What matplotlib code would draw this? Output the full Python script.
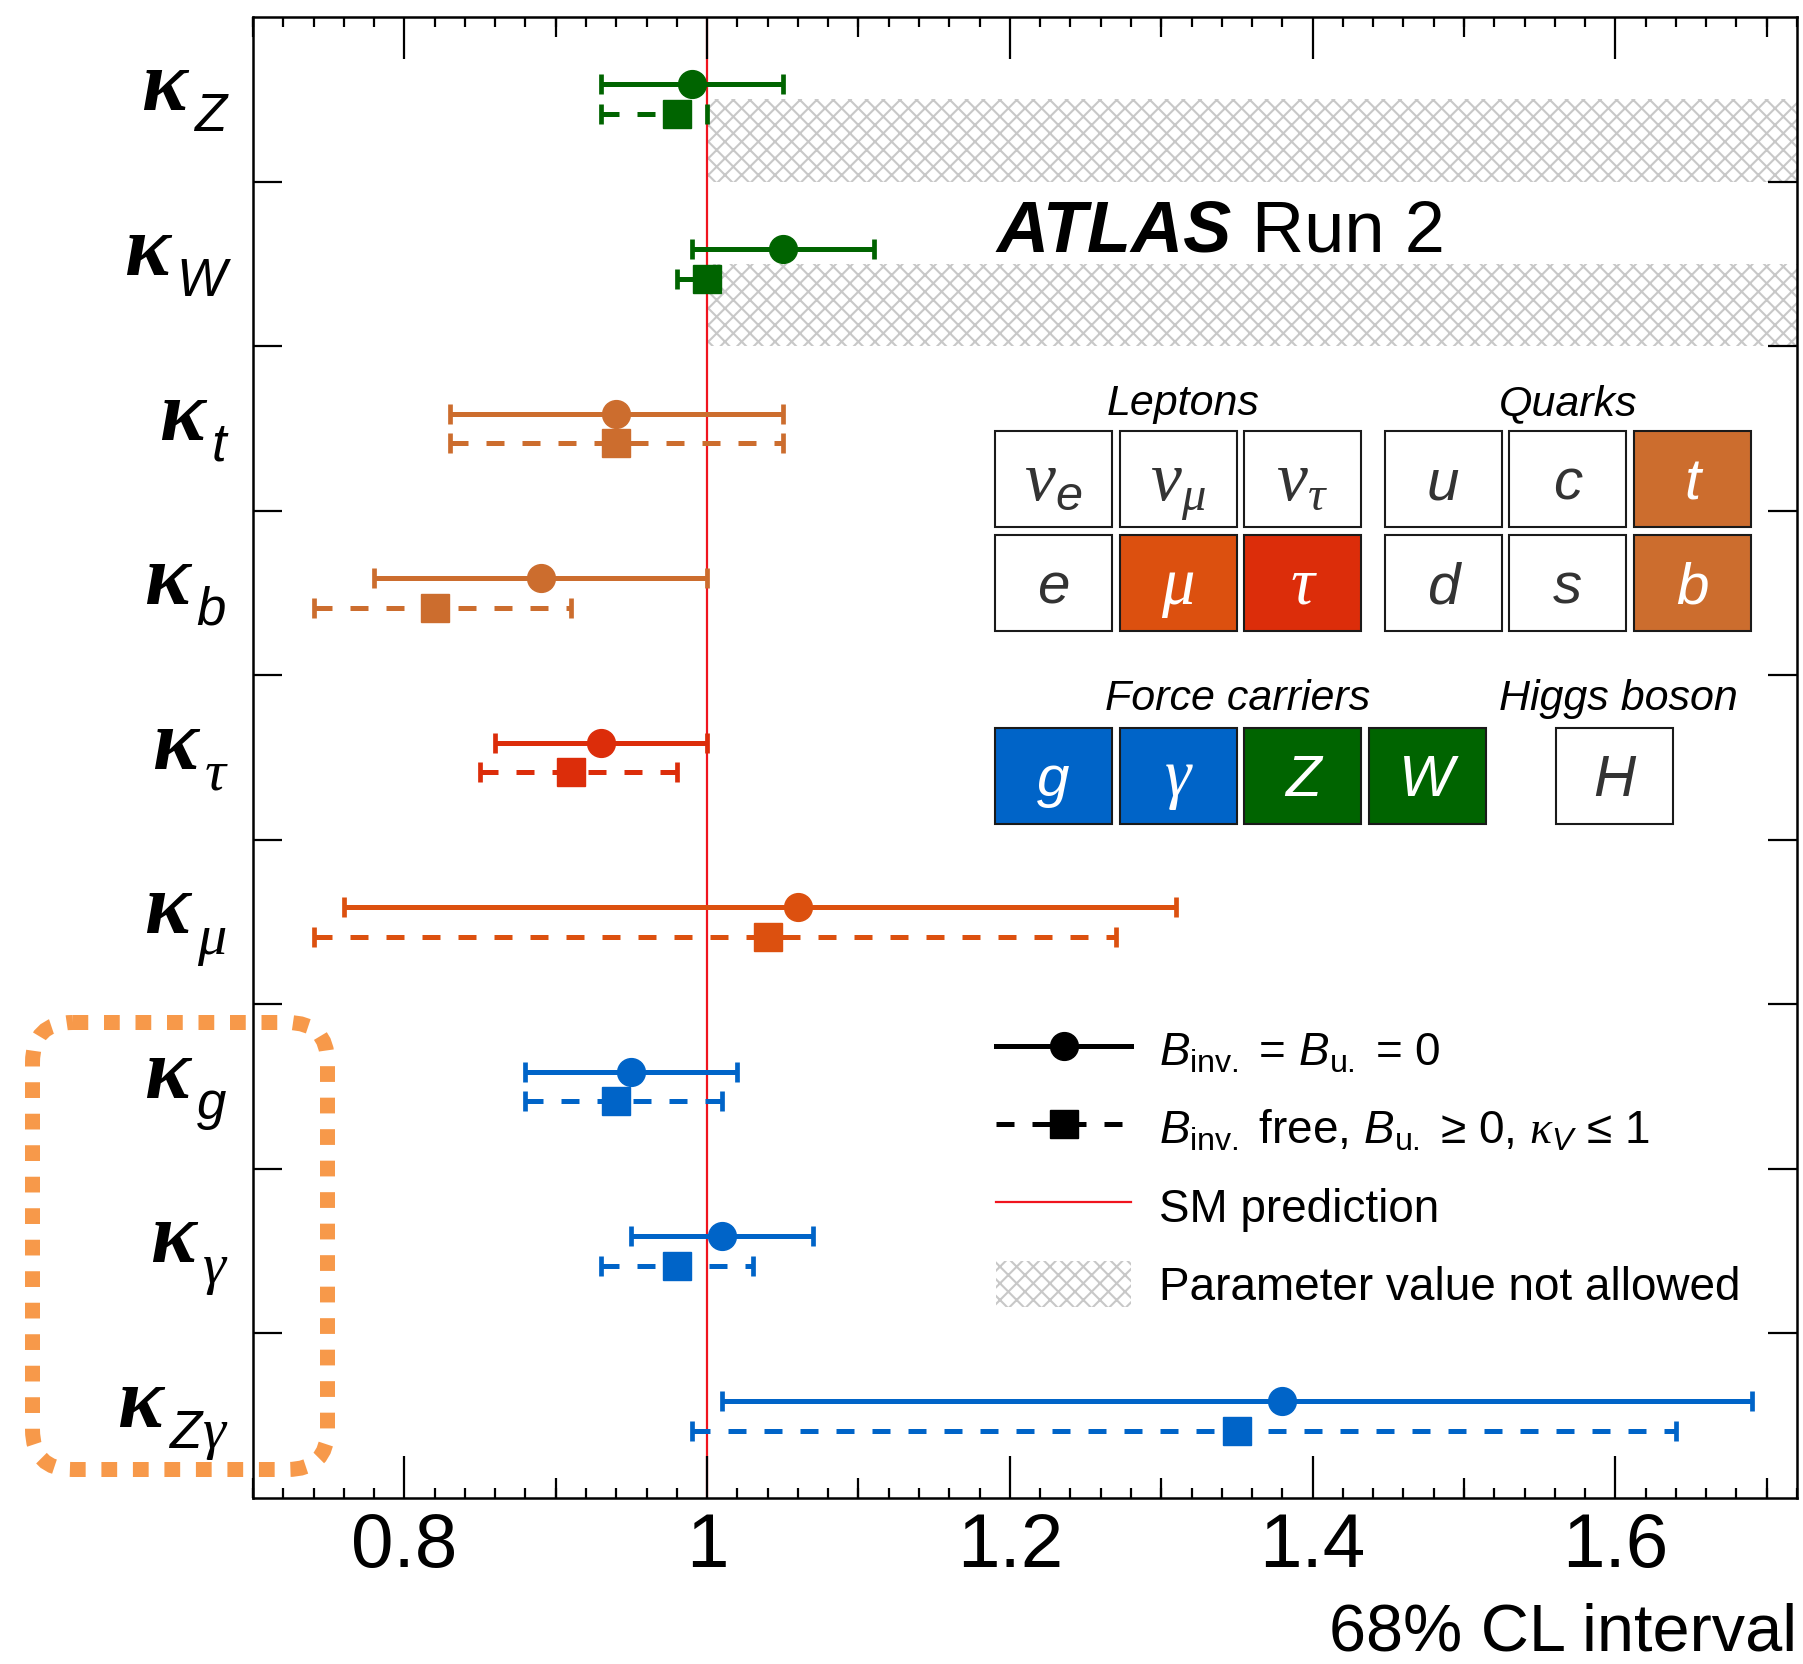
import numpy as np
import matplotlib
matplotlib.use('Agg')
import matplotlib.pyplot as plt
import matplotlib.transforms as mtransforms
from matplotlib.lines import Line2D
from matplotlib.patches import Patch, Rectangle, FancyBboxPatch
from matplotlib.ticker import MultipleLocator, FuncFormatter

plt.rcParams['font.family'] = ['Liberation Sans', 'DejaVu Sans']
plt.rcParams['mathtext.fontset'] = 'custom'
plt.rcParams['mathtext.rm'] = 'Liberation Sans'
plt.rcParams['mathtext.it'] = 'Liberation Sans:italic'
plt.rcParams['mathtext.bf'] = 'Liberation Sans:bold'
plt.rcParams['mathtext.cal'] = 'Liberation Serif:italic'
plt.rcParams['mathtext.sf'] = 'Liberation Sans'
plt.rcParams['hatch.linewidth'] = 1.5

GREEN = '#006400'
TOP = '#cc6d2e'
MU = '#dc500f'
TAU = '#dc2d0a'
BLUE = '#0064c8'
RED = '#f0141e'
HATCH = '#c8c8c8'
SERIF = ['Liberation Serif', 'DejaVu Serif']
SANS = ['Liberation Sans', 'DejaVu Sans']

# couplings, top to bottom
kappa_sub = ['Z', 'W', 't', 'b', 'τ', 'μ', 'g', 'γ', 'Zγ']
row_color = [GREEN, GREEN, TOP, TOP, TAU, MU, BLUE, BLUE, BLUE]

# B_inv = B_u = 0
fit1_val = [0.99, 1.05, 0.94, 0.89, 0.93, 1.06, 0.95, 1.01, 1.38]
fit1_lo = [0.93, 0.99, 0.83, 0.78, 0.86, 0.76, 0.88, 0.95, 1.01]
fit1_hi = [1.05, 1.11, 1.05, 1.00, 1.00, 1.31, 1.02, 1.07, 1.69]

# B_inv free, B_u >= 0, kappa_V <= 1
fit2_val = [0.98, 1.00, 0.94, 0.82, 0.91, 1.04, 0.94, 0.98, 1.35]
fit2_lo = [0.93, 0.98, 0.83, 0.74, 0.85, 0.74, 0.88, 0.93, 0.99]
fit2_hi = [1.00, 1.00, 1.05, 0.91, 0.98, 1.27, 1.01, 1.03, 1.64]

# kappa_V <= 1 bound (kappa_Z, kappa_W)
kv_limit = [1.0, 1.0]

xmin, xmax = 0.7, 1.72

# particle table
lepton_syms = [r'$\mathcal{\nu}_{e}$', r'$\mathcal{\nu}_{\mathcal{\mu}}$', r'$\mathcal{\nu}_{\mathcal{\tau}}$',
               'e', 'μ', 'τ']
lepton_cols = [None, None, None, None, MU, TAU]
quark_syms = ['u', 'c', 't', 'd', 's', 'b']
quark_cols = [None, None, TOP, None, None, TOP]
force_syms = ['g', 'γ', 'Z', 'W']
force_cols = [BLUE, BLUE, GREEN, GREEN]

fig = plt.figure(figsize=(18.03, 16.64), dpi=100)
ax = fig.add_axes([253 / 1803, 1 - 1498 / 1664, 1544 / 1803, 1481 / 1664])
# pixel coordinates measured from the top-left corner of the figure
PX = mtransforms.Affine2D().scale(0.01, -0.01).translate(0, 16.64) + fig.dpi_scale_trans

n = len(kappa_sub)
yc = n - 0.5 - np.arange(n)

ax.axvline(1.0, color=RED, lw=1.6, zorder=1.5)

for i, lim in enumerate(kv_limit):
    ax.fill_between([lim, xmax], yc[i] - 0.5, yc[i], facecolor='none',
                    edgecolor=HATCH, hatch='xx', lw=0, zorder=1)

for i in range(n):
    c = row_color[i]
    ax.errorbar(fit1_val[i], yc[i] + 0.09,
                xerr=[[fit1_val[i] - fit1_lo[i]], [fit1_hi[i] - fit1_val[i]]],
                fmt='o', color=c, ms=20, elinewidth=3.6, capsize=7.5, capthick=3.4, zorder=4)
    eb = ax.errorbar(fit2_val[i], yc[i] - 0.09,
                     xerr=[[fit2_val[i] - fit2_lo[i]], [fit2_hi[i] - fit2_val[i]]],
                     fmt='s', color=c, ms=20, elinewidth=3.6, capsize=7.5, capthick=3.4, zorder=4)
    eb[2][0].set_linestyle((0, (3.6, 3.6)))

ax.set_xlim(xmin, xmax)
ax.set_ylim(0, n)
ax.xaxis.set_major_locator(MultipleLocator(0.2))
ax.xaxis.set_minor_locator(MultipleLocator(0.02))
ax.xaxis.set_major_formatter(FuncFormatter(lambda v, p: f'{v:g}'))
ax.tick_params(axis='x', which='major', direction='in', length=30, width=1.6,
               top=True, labelsize=55, pad=10)
ax.tick_params(axis='x', which='minor', direction='in', length=7, width=1.6, top=True)
for loc in ['bottom', 'top']:
    sec = ax.secondary_xaxis(loc)
    sec.set_xticks(np.arange(0.7, 1.75, 0.2))
    sec.tick_params(direction='in', length=14.5, width=1.6,
                    labelbottom=False, labeltop=False)
    sec.spines[loc].set_visible(False)
ax.set_yticks(np.arange(1, n))
ax.set_yticklabels([])
ax.tick_params(axis='y', direction='in', length=21, width=1.6, right=True)
for s in ax.spines.values():
    s.set_linewidth(1.8)

ax.set_xlabel('68% CL interval', loc='right', fontsize=48, labelpad=14)

# y labels: bold kappa with subscript
for i in range(n):
    prev = None
    for ch in reversed(kappa_sub[i]):
        greek = ch in 'γτμ'
        kw = dict(family=SERIF if greek else SANS, style='italic', fontsize=42 if greek else 38,
                  textcoords='offset points', ha='right', va='baseline', annotation_clip=False)
        if prev is None:
            prev = ax.annotate(ch, xy=(0, yc[i]), xycoords=('axes fraction', 'data'),
                               xytext=(-19.5, -23), **kw)
        else:
            prev = ax.annotate(ch, xy=(0, yc[i]), xycoords=(prev, 'data'),
                               xytext=(-1, -23), **kw)
    ax.annotate('κ', xy=(0, yc[i]), xycoords=(prev, 'data'), xytext=(-5, -8),
                textcoords='offset points', ha='right', va='baseline', family=SERIF,
                weight='bold', style='italic', fontsize=62, annotation_clip=False)

# ATLAS label
atl = ax.annotate('ATLAS', xy=(996, 251), xycoords=PX, fontsize=52, weight='bold',
                  style='italic', va='baseline', annotation_clip=False)
ax.annotate('Run 2', xy=(1, 0), xycoords=atl, xytext=(15, 0), textcoords='offset points',
            fontsize=52, va='bottom', ha='left', annotation_clip=False)

# particle table
BW, BH, STEP = 117, 96, 124.5


def draw_box(x0, y0, sym, col):
    fig.add_artist(Rectangle((x0, y0), BW, BH, transform=PX, facecolor=col or 'white',
                             edgecolor='#1a1a1a', lw=1.5))
    greek = sym in ('μ', 'τ', 'γ')
    size = 50 if sym.startswith('$') else (48 if greek else 42)
    fig.text(x0 + BW / 2, y0 + BH / 2 + 21, sym, transform=PX, fontsize=size, style='italic',
             family=SERIF if greek else SANS, color='white' if col else '#333333',
             ha='center', va='baseline')


for k, (s, c) in enumerate(zip(lepton_syms, lepton_cols)):
    draw_box(995 + STEP * (k % 3), 431 + 104 * (k // 3), s, c)
for k, (s, c) in enumerate(zip(quark_syms, quark_cols)):
    draw_box(1384.5 + STEP * (k % 3), 431 + 104 * (k // 3), s, c)
for k, (s, c) in enumerate(zip(force_syms, force_cols)):
    draw_box(995 + STEP * k, 727.5, s, c)
draw_box(1556, 727.5, 'H', None)

for txt, x, y in [('Leptons', 1183, 415), ('Quarks', 1568, 415),
                  ('Force carriers', 1238, 710), ('Higgs boson', 1618, 710)]:
    fig.text(x, y, txt, transform=PX, fontsize=31, style='italic', ha='center', va='baseline')

# legend
handles = [Line2D([], [], color='k', lw=3.6, marker='o', ms=20),
           Line2D([], [], color='k', lw=3.6, ls=(0, (3.6, 3.6)), marker='s', ms=20),
           Line2D([], [], color=RED, lw=1.6),
           Patch(facecolor='white', edgecolor=HATCH, hatch='xx', lw=0)]
labels = [r'$B_{\mathrm{inv.}}$ = $B_{\mathrm{u.}}$ = 0',
          r'$B_{\mathrm{inv.}}$ free, $B_{\mathrm{u.}}$ ≥ 0, $\mathcal{\kappa}_{V}$ ≤ 1',
          'SM prediction', 'Parameter value not allowed']
ax.legend(handles, labels, loc='upper left', bbox_to_anchor=(996, 1027), bbox_transform=PX,
          frameon=False, fontsize=33, handlelength=2.95, handleheight=1.18,
          handletextpad=0.6, labelspacing=0.64, borderpad=0, borderaxespad=0)

# highlight box around loop-induced couplings
fig.add_artist(FancyBboxPatch((32.5, 1022.5), 295, 447,
                              boxstyle='round,pad=0,rounding_size=40', transform=PX,
                              fill=False, edgecolor='#f7994a', lw=10.8,
                              linestyle=(0, (1.05, 1.05)), capstyle='butt'))

fig.savefig('out.png', dpi=100)
